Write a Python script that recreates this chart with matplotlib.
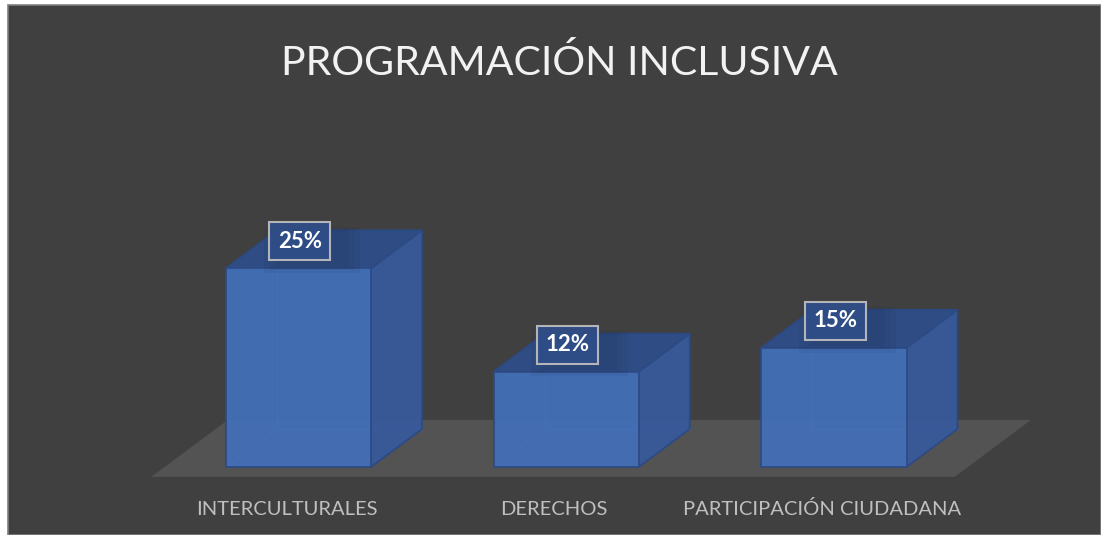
import matplotlib
matplotlib.use("Agg")
import matplotlib.pyplot as plt
from matplotlib.patches import Polygon, Rectangle

# data
categories = ["INTERCULTURALES", "DERECHOS", "PARTICIPACIÓN CIUDADANA"]
values = [25, 12, 15]
labels = ["25%", "12%", "15%"]
title = "PROGRAMACIÓN INCLUSIVA"

BG = "#404040"
FLOOR = "#545353"
FRONT = "#4370B9"
SIDE = "#37599A"
TOP = "#2F4E88"
EDGE = "#2C4A84"
INNER = "#3E68B0"

HALF_W = 0.2708   # half bar width, category units
DX = 0.1905       # depth offset in x
DY = 4.78         # depth offset in value units

plt.rcParams["font.family"] = ["Lato", "DejaVu Sans"]

fig = plt.figure(figsize=(11.01, 5.35), dpi=100)
fig.patch.set_facecolor("white")
fig.patches.append(Rectangle((8 / 1101, 0), 1 - 8 / 1101, 530 / 535, transform=fig.transFigure,
                             facecolor=BG, edgecolor="#7f7f7f", lw=1.2, zorder=-5))

ax = fig.add_axes([0, 0, 1, 1])
ax.set_facecolor("none")
ax.set_xlim(-1.1148, 2.9972)
ax.set_ylim(-8.553, 58.74)
ax.axis("off")


def shift(x, y, d):
    return (x + d * DX, y + d * DY)


# floor
d0, d1 = -0.26, 1.24
floor = [shift(-0.5, 0, d0), shift(2.5, 0, d0), shift(2.5, 0, d1), shift(-0.5, 0, d1)]
ax.add_patch(Polygon(floor, closed=True, facecolor=FLOOR, edgecolor="none", zorder=1))

for i, v in enumerate(values):
    x0, x1 = i - HALF_W, i + HALF_W
    # hidden edges seen through the bar
    bx, by = shift(x0, 0, 1)
    ax.plot([bx, bx], [by, by + v], color=INNER, lw=1, zorder=2)
    ax.plot([x0, bx], [0, by], color=INNER, lw=1, zorder=2)
    ax.plot([bx, bx + 2 * HALF_W], [by, by], color=INNER, lw=1, zorder=2)

    front = [(x0, 0), (x1, 0), (x1, v), (x0, v)]
    side = [(x1, 0), shift(x1, 0, 1), shift(x1, v, 1), (x1, v)]
    top = [(x0, v), (x1, v), shift(x1, v, 1), shift(x0, v, 1)]
    ax.add_patch(Polygon(side, closed=True, facecolor=SIDE, edgecolor=EDGE, lw=1.3, alpha=0.95, zorder=3))
    ax.add_patch(Polygon(top, closed=True, facecolor=TOP, edgecolor=EDGE, lw=1.3, alpha=0.95, zorder=3))
    ax.add_patch(Polygon(front, closed=True, facecolor=FRONT, edgecolor=EDGE, lw=1.3, alpha=0.93, zorder=4))

    # soft shadow under the label box (stacked translucent rectangles)
    for k, a in enumerate([0.08, 0.08, 0.1]):
        grow = 0.02 * (2 - k)
        ax.add_patch(Rectangle((i - 0.09 - grow, v + 0.2 - grow * 20), 0.28 + 2 * grow, 4.6 + grow * 30,
                               facecolor="#1A2B4D", edgecolor="none", alpha=a, zorder=5))

    # data label with box
    ax.text(i + 0.005, v + 3.4, labels[i], ha="center", va="center", color="white",
            fontsize=16, fontweight="bold", zorder=6,
            bbox=dict(boxstyle="square,pad=0.38", facecolor="#2F4E88", alpha=0.92,
                      edgecolor="#BFBFBF", lw=1.5))

    # category label
    ax.text(i - 0.045, -6.04, categories[i], ha="center", va="baseline",
            color="#BFBFBF", fontsize=14.5, zorder=6)

fig.text(0.5077, (535 - 75) / 535, title, ha="center", va="baseline",
         color="#F2F2F2", fontsize=29.5)

fig.savefig("out.png", dpi=100, facecolor=fig.get_facecolor())
